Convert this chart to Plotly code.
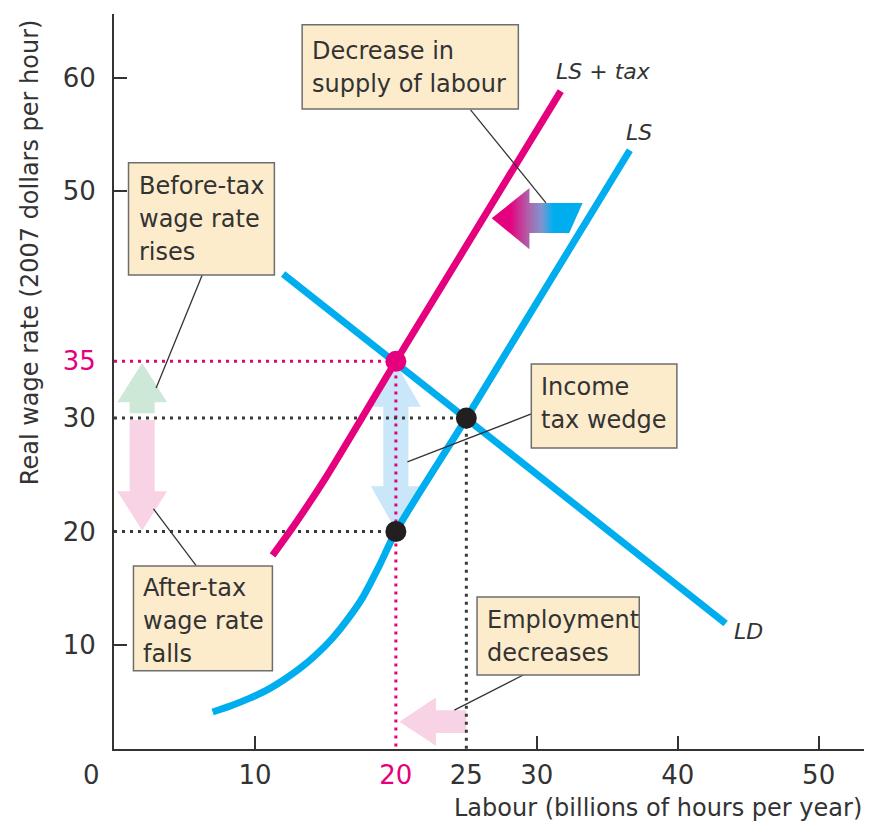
import plotly.graph_objects as go

# ---------------- data ----------------
# Labour supply curve LS (billions of hours, $/hour)
ls_x = [7.0, 8.4, 9.6, 10.8, 12.0, 13.2, 14.3, 15.5, 16.6, 17.65, 18.83, 20.0, 25.0, 36.6]
ls_y = [4.1, 4.7, 5.3, 6.0, 6.9, 7.95, 9.1, 10.6, 12.3, 14.2, 17.0, 20.0, 30.0, 53.6]
# Labour supply with income tax, LS + tax
lstax_x = [11.25, 12.7, 15.05, 20.0, 31.7]
lstax_y = [17.9, 20.4, 24.8, 35.0, 58.8]
# Labour demand LD
ld_x = [12.0, 43.4]
ld_y = [42.7, 11.9]

# equilibrium values
emp_notax, wage_notax = 25, 30      # no-tax equilibrium
emp_tax = 20                        # employment with tax
wage_before_tax = 35                # wage paid by firms
wage_after_tax = 20                 # wage received by workers

# axis ticks
x_tickvals = [10, 20, 25, 30, 40, 50]
x_ticktext = ["10", "20", "25", "30", "40", "50"]
y_tickvals = [10, 20, 30, 35, 50, 60]
y_ticktext = ["10", "20", "30", "35", "50", "60"]
x_tickmarks = [10, 30, 40, 50]
y_tickmarks = [10, 50, 60]

# ---------------- styling ----------------
BLUE = "#00aeef"
MAG = "#e5007d"
TXT = "#333333"
DOT = "#231f20"
BOXFILL = "#fdeccc"
BOXLINE = "#6e6e6e"
FONT = "DejaVu Sans"

X_RANGE = [0, 53.5]
Y_RANGE = [0.84, 65.6]

fig = go.Figure()

def poly(xs, ys, color, **kw):
    fig.add_trace(go.Scatter(x=xs + [xs[0]], y=ys + [ys[0]], mode="lines",
                             fill="toself", fillcolor=color,
                             line=dict(width=0, color=color),
                             hoverinfo="skip", showlegend=False, **kw))

# ---------------- light block arrows ----------------
ax_c = 2.0           # x centre of the two left arrows
sw, hw = 0.89, 1.77  # shaft / head half widths (x units)
hl = 3.6             # head length (y units)
# green up arrow: before-tax wage rises (30 -> 35)
poly([ax_c - sw, ax_c + sw, ax_c + sw, ax_c + hw, ax_c, ax_c - hw, ax_c - sw],
     [wage_notax + 0.42, wage_notax + 0.42, wage_before_tax - hl, wage_before_tax - hl,
      wage_before_tax - 0.15, wage_before_tax - hl, wage_before_tax - hl], "#cde8d7")
# pink down arrow: after-tax wage falls (30 -> 20)
poly([ax_c - sw, ax_c + sw, ax_c + sw, ax_c + hw, ax_c, ax_c - hw, ax_c - sw],
     [wage_notax - 0.17, wage_notax - 0.17, wage_after_tax + 3.56, wage_after_tax + 3.56,
      wage_after_tax + 0.1, wage_after_tax + 3.56, wage_after_tax + 3.56], "#f8d3e5")
# light blue double arrow: the tax wedge 35 <-> 20 at employment 20
bx = emp_tax
hl2 = 4.0
poly([bx, bx + hw, bx + sw, bx + sw, bx + hw, bx, bx - hw, bx - sw, bx - sw, bx - hw],
     [wage_before_tax - 0.2, wage_before_tax - hl2, wage_before_tax - hl2,
      wage_after_tax + hl2, wage_after_tax + hl2, wage_after_tax + 0.1,
      wage_after_tax + hl2, wage_after_tax + hl2, wage_before_tax - hl2,
      wage_before_tax - hl2], "#c9e7f8")
# pink left arrow: employment decreases 25 -> 20
ay_c, ash, ahh = 3.25, 1.0, 2.12
poly([emp_notax, emp_tax + 2.84, emp_tax + 2.84, emp_tax + 0.25,
      emp_tax + 2.84, emp_tax + 2.84, emp_notax],
     [ay_c + ash, ay_c + ash, ay_c + ahh, ay_c, ay_c - ahh, ay_c - ash, ay_c - ash],
     "#f8d3e5")

# ---------------- dotted guide lines ----------------
DASH = "3px,5px"
fig.add_trace(go.Scatter(x=[0, emp_tax, emp_tax], y=[wage_before_tax, wage_before_tax, Y_RANGE[0]],
                         mode="lines", line=dict(color=MAG, width=3, dash=DASH),
                         hoverinfo="skip", showlegend=False))
fig.add_trace(go.Scatter(x=[0, emp_notax, emp_notax], y=[wage_notax, wage_notax, Y_RANGE[0]],
                         mode="lines", line=dict(color="#3a3a3a", width=3, dash=DASH),
                         hoverinfo="skip", showlegend=False))
fig.add_trace(go.Scatter(x=[0, emp_tax], y=[wage_after_tax, wage_after_tax],
                         mode="lines", line=dict(color="#3a3a3a", width=3, dash=DASH),
                         hoverinfo="skip", showlegend=False))

# ---------------- curves ----------------
fig.add_trace(go.Scatter(x=ld_x, y=ld_y, mode="lines", line=dict(color=BLUE, width=7),
                         name="LD", showlegend=False))
fig.add_trace(go.Scatter(x=ls_x, y=ls_y, mode="lines",
                         line=dict(color=BLUE, width=7, shape="spline", smoothing=0.8),
                         name="LS", showlegend=False))
fig.add_trace(go.Scatter(x=lstax_x, y=lstax_y, mode="lines",
                         line=dict(color=MAG, width=7, shape="spline", smoothing=0.6),
                         name="LS + tax", showlegend=False))

# gradient arrow: decrease in supply of labour
ga_x = [26.8, 29.48, 29.48, 33.25, 32.3, 29.48, 29.48, 26.8]
ga_y = [47.6, 50.26, 48.94, 48.94, 46.3, 46.3, 44.88, 47.6]
fig.add_trace(go.Scatter(x=ga_x, y=ga_y, mode="lines", fill="toself",
                         fillgradient=dict(type="horizontal",
                                           colorscale=[[0, MAG], [0.2, MAG], [0.4, "#b060a8"],
                                                       [0.55, "#7f95d0"], [0.68, BLUE], [1, BLUE]]),
                         line=dict(width=0), hoverinfo="skip", showlegend=False))

# equilibrium points
fig.add_trace(go.Scatter(x=[emp_notax, emp_tax], y=[wage_notax, wage_after_tax], mode="markers",
                         marker=dict(color=DOT, size=21), showlegend=False))
fig.add_trace(go.Scatter(x=[emp_tax], y=[wage_before_tax], mode="markers",
                         marker=dict(color=MAG, size=21), showlegend=False))

# dummy trace for the tick-mark overlay axes
fig.add_trace(go.Scatter(x=[], y=[], xaxis="x2", yaxis="y2", showlegend=False))

# ---------------- callout boxes ----------------
# (x0, x1, y0, y1, lines, top padding px)
boxes = [
    (13.35, 28.69, 57.24, 64.65, ["Decrease in", "supply of labour"], 10),
    (1.03, 11.38, 42.61, 52.49, ["Before-tax", "wage rate", "rises"], 7),
    (1.38, 11.24, 7.74, 16.97, ["After-tax", "wage rate", "falls"], 6.5),
    (29.61, 39.94, 27.37, 34.77, ["Income", "tax wedge"], 7),
    (25.76, 37.27, 7.36, 14.23, ["Employment", "decreases"], 7),
]
LINE_GAP = 33
leaders = [
    (25.3, 57.16, 30.65, 48.96),
    (6.26, 42.61, 2.99, 32.65),
    (5.83, 16.99, 2.80, 21.99),
    (29.61, 30.36, 20.82, 26.13),
    (29.04, 7.36, 24.15, 4.27),
]
shapes = []
annotations = []
for (x0, y0, x1, y1) in leaders:
    shapes.append(dict(type="line", xref="x", yref="y", x0=x0, y0=y0, x1=x1, y1=y1,
                       line=dict(color="#333333", width=1.3), layer="above"))
for (x0, x1, y0, y1, lines, tp) in boxes:
    shapes.append(dict(type="rect", xref="x", yref="y", x0=x0, x1=x1, y0=y0, y1=y1,
                       fillcolor=BOXFILL, line=dict(color=BOXLINE, width=1.5), layer="above"))
    for k, t in enumerate(lines):
        annotations.append(dict(x=x0, y=y1, xref="x", yref="y", text=t, showarrow=False,
                                xanchor="left", yanchor="top", align="left",
                                xshift=8, yshift=-(tp + k * LINE_GAP),
                                font=dict(family=FONT, size=24, color=TXT)))

# curve labels
annotations += [
    dict(x=31.24, y=60.5, xref="x", yref="y", text="<i>LS</i> + <i>tax</i>", showarrow=False,
         xanchor="left", yanchor="middle", font=dict(family=FONT, size=22, color=TXT)),
    dict(x=36.2, y=55.2, xref="x", yref="y", text="<i>LS</i>", showarrow=False,
         xanchor="left", yanchor="middle", font=dict(family=FONT, size=22, color=TXT)),
    dict(x=43.87, y=11.15, xref="x", yref="y", text="<i>LD</i>", showarrow=False,
         xanchor="left", yanchor="middle", font=dict(family=FONT, size=22, color=TXT)),
]
# axis titles and origin label
annotations += [
    dict(x=-0.1114, y=0.676, xref="paper", yref="paper", text="Real wage rate (2007 dollars per hour)",
         textangle=-90, showarrow=False, xanchor="center", yanchor="middle",
         font=dict(family=FONT, size=24, color=TXT)),
    dict(x=0.9947, y=-0.0803, xref="paper", yref="paper", text="Labour (billions of hours per year)",
         showarrow=False, xanchor="right", yanchor="middle",
         font=dict(family=FONT, size=24, color=TXT)),
    dict(x=-0.0292, y=-0.0354, xref="paper", yref="paper", text="0",
         showarrow=False, xanchor="center", yanchor="middle",
         font=dict(family=FONT, size=26, color=TXT)),
]

def colored(vals, texts, special):
    return [f'<span style="color:{MAG}">{t}</span>' if v == special else t
            for v, t in zip(vals, texts)]

fig.update_layout(
    width=864, height=818,
    margin=dict(l=106, r=4, t=6, b=77, pad=0),
    plot_bgcolor="white", paper_bgcolor="white",
    font=dict(family=FONT, color=TXT),
    showlegend=False,
    shapes=shapes, annotations=annotations,
    xaxis=dict(range=X_RANGE, showgrid=False, zeroline=False, showline=True,
               linecolor="#333333", linewidth=2, ticks="",
               tickvals=x_tickvals, ticktext=colored(x_tickvals, x_ticktext, emp_tax),
               tickfont=dict(family=FONT, size=26, color=TXT), ticklabelstandoff=2),
    yaxis=dict(range=Y_RANGE, showgrid=False, zeroline=False, showline=True,
               linecolor="#333333", linewidth=2, ticks="",
               tickvals=y_tickvals, ticktext=colored(y_tickvals, y_ticktext, wage_before_tax),
               tickfont=dict(family=FONT, size=26, color=TXT), ticklabelstandoff=11),
    xaxis2=dict(overlaying="x", anchor="y2", side="bottom", range=X_RANGE, showgrid=False,
                zeroline=False, showline=False, ticks="inside", ticklen=13, tickwidth=2,
                tickcolor="#333333", tickvals=x_tickmarks, showticklabels=False),
    yaxis2=dict(overlaying="y", anchor="x2", side="left", range=Y_RANGE, showgrid=False,
                zeroline=False, showline=False, ticks="inside", ticklen=13, tickwidth=2,
                tickcolor="#333333", tickvals=y_tickmarks, showticklabels=False),
)

fig.write_html("out.html")
